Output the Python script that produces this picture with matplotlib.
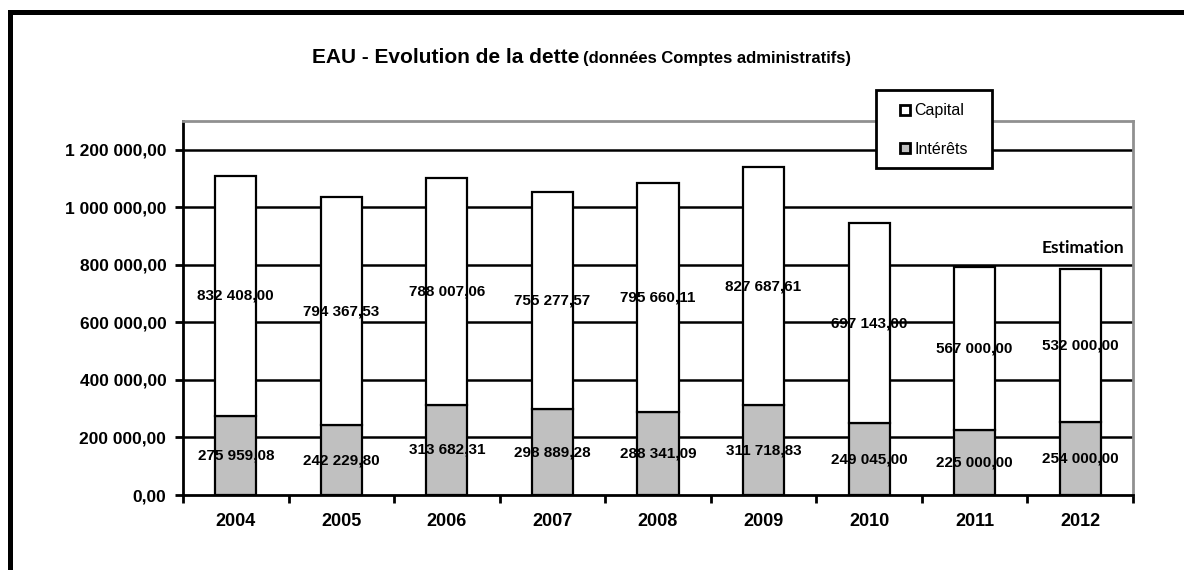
import matplotlib
matplotlib.use("Agg")
import matplotlib.pyplot as plt
from matplotlib.patches import Rectangle
from matplotlib.lines import Line2D
import numpy as np

years = ["2004", "2005", "2006", "2007", "2008", "2009", "2010", "2011", "2012"]
interets = [275959.08, 242229.80, 313682.31, 298889.28, 288341.09, 311718.83, 249045.00, 225000.00, 254000.00]
capital = [832408.00, 794367.53, 788007.06, 755277.57, 795660.11, 827687.61, 697143.00, 567000.00, 532000.00]
yticks = [0, 200000, 400000, 600000, 800000, 1000000, 1200000]

plt.rcParams['font.family'] = ['Liberation Sans', 'DejaVu Sans']

W, H = 1184, 570
fig = plt.figure(figsize=(W / 100, H / 100), dpi=100)
fig.patch.set_facecolor('white')

def fx(px):
    return px / W

def fy(py):
    return 1 - py / H

def fmt(v):
    s = f"{v:,.2f}"
    return s.replace(",", " ").replace(".", ",")

# outer frame
fig.add_artist(Rectangle((fx(9.5), -0.1), 1.2, fy(12) + 0.1, transform=fig.transFigure,
                         fill=False, lw=3.6, edgecolor='black', clip_on=False))

ax = fig.add_axes([fx(183), fy(495), fx(1133) - fx(183), fy(121) - fy(495)])
x = np.arange(len(years))
bw = 0.39
ax.bar(x, interets, bw, color='#c0c0c0', edgecolor='black', linewidth=1.6, zorder=3)
ax.bar(x, capital, bw, bottom=interets, color='white', edgecolor='black', linewidth=1.6, zorder=3)

for i in range(len(years)):
    ax.text(x[i], interets[i] / 2, fmt(interets[i]), ha='center', va='center',
            fontsize=11, fontweight='bold', zorder=5)
    ax.text(x[i], interets[i] + capital[i] / 2, fmt(capital[i]), ha='center', va='center',
            fontsize=11, fontweight='bold', zorder=5)

ax.set_xlim(-0.5, len(years) - 0.5)
ax.set_ylim(0, 1300000)
ax.set_yticks(yticks)
ax.set_yticklabels([fmt(v) for v in yticks], fontsize=12.5, fontweight='bold')
ax.set_xticks(x)
ax.set_xticklabels(years, fontsize=13, fontweight='bold')
ax.set_xticks(np.arange(-0.5, len(years)), minor=True)
ax.tick_params(axis='x', which='major', length=0, pad=13)
ax.tick_params(axis='x', which='minor', length=6, width=2, direction='out')
ax.tick_params(axis='y', length=6, width=2, direction='out', pad=6)
for yv in yticks[1:]:
    ax.axhline(yv, color='black', lw=1.8, zorder=1)
ax.spines['left'].set_linewidth(2)
ax.spines['bottom'].set_linewidth(2)
ax.spines['top'].set_color('#909090')
ax.spines['right'].set_color('#909090')
ax.spines['top'].set_linewidth(2)
ax.spines['right'].set_linewidth(2)

fig.text(fx(1124), fy(248), "Estimation", ha='right', va='center',
         fontsize=12.5, fontweight='bold', family=['Lato', 'DejaVu Sans'], zorder=6)

# legend box
fig.add_artist(Rectangle((fx(876), fy(168)), fx(992) - fx(876), fy(90) - fy(168),
                         transform=fig.transFigure, facecolor='white', edgecolor='black',
                         lw=2, zorder=9))
handles = [Line2D([], [], marker='s', linestyle='none', markersize=6.5, markerfacecolor='white',
                  markeredgecolor='black', markeredgewidth=2),
           Line2D([], [], marker='s', linestyle='none', markersize=6.5, markerfacecolor='#c0c0c0',
                  markeredgecolor='black', markeredgewidth=2)]
leg = fig.legend(handles, ["Capital", "Intérêts"], loc='center',
                 bbox_to_anchor=(fx(934), fy(130)), frameon=False, fontsize=11.5,
                 labelspacing=1.45, handlelength=0.6, handletextpad=0.25,
                 borderpad=0, borderaxespad=0)
leg.set_zorder(10)

# title
t1 = fig.text(fx(312), fy(63), "EAU - Evolution de la dette", ha='left', va='baseline',
              fontsize=15, fontweight='bold')
fig.canvas.draw()
bb = t1.get_window_extent(fig.canvas.get_renderer())
fig.text(bb.x1 / W + fx(4), fy(63), "(données Comptes administratifs)", ha='left', va='baseline',
         fontsize=12, fontweight='bold')

fig.savefig("out.png", dpi=100, facecolor='white')
